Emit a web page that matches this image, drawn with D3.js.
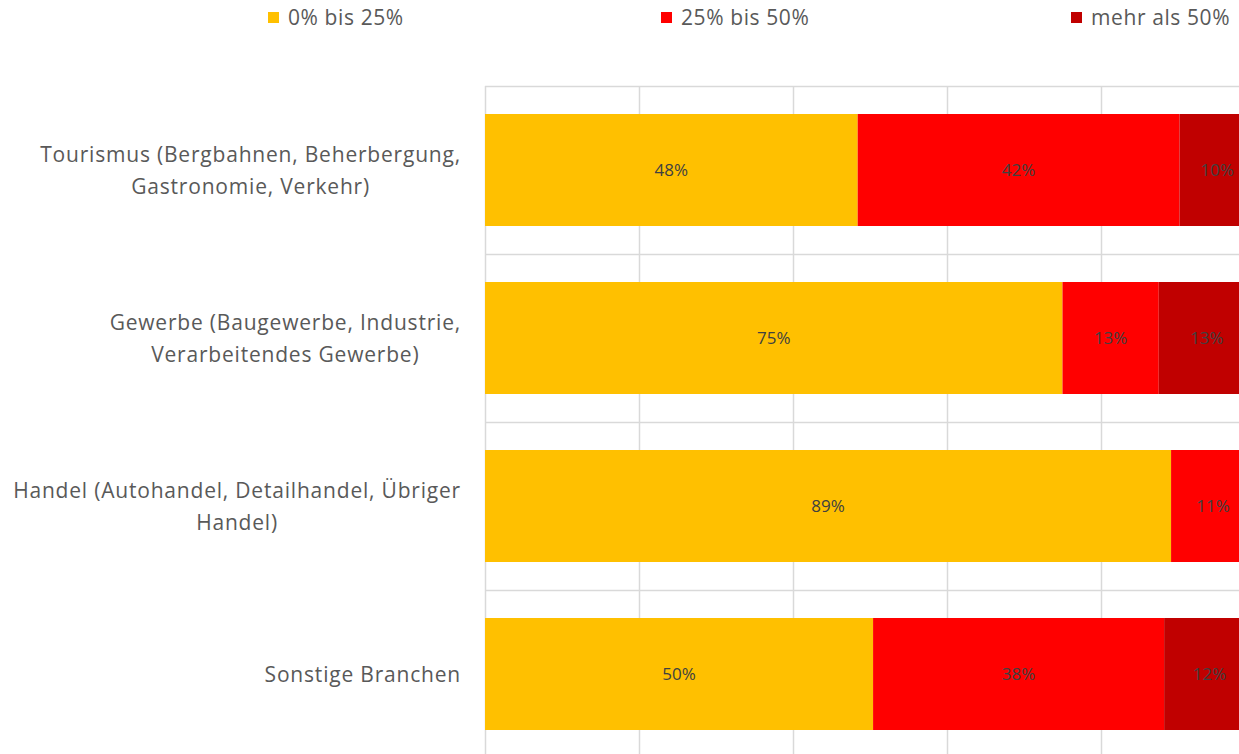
<!DOCTYPE html>
<html>
<head>
<meta charset="utf-8">
<script src="https://cdn.jsdelivr.net/npm/d3@7"></script>
<style>
  body { margin: 0; background: #fff; }
  svg { display: block; font-family: "Open Sans", sans-serif; }
</style>
</head>
<body>
<div class="chart"></div>
<script>
// Data
var categories = [
    ["Tourismus (Bergbahnen, Beherbergung,", "Gastronomie, Verkehr)"],
    ["Gewerbe (Baugewerbe, Industrie,", "Verarbeitendes Gewerbe)"],
    ["Handel (Autohandel, Detailhandel, Übriger", "Handel)"],
    ["Sonstige Branchen"]
];
var seriesNames = ["0% bis 25%", "25% bis 50%", "mehr als 50%"];
var low = [48.4, 75, 89.1, 50.4];
var mid = [41.8, 12.5, 10.9, 37.8];
var high = [9.8, 12.5, 0, 11.8];
var xTicks = [0, 0.2, 0.4, 0.6, 0.8, 1];
var colors = ["#FFC000", "#FF0000", "#C00000"];

var svgWidth = 1239;
var svgHeight = 754;

var svg = d3.select(".chart")
    .append("svg")
    .attr("width", svgWidth)
    .attr("height", svgHeight);

var rows = categories.map(function(c, i) {
    return { key: i, low: low[i] / 100, mid: mid[i] / 100, high: high[i] / 100 };
});

var stacked = d3.stack().keys(["low", "mid", "high"])(rows);

// Scales - plot runs past the right edge of the picture
var xScale = d3.scaleLinear().domain([0, 1]).range([485, 1255]);
var yScale = d3.scaleBand()
    .domain(d3.range(categories.length))
    .range([86, 758])
    .paddingInner(1 / 3)
    .paddingOuter(1 / 6);

var gridColor = "#d9d9d9";

// vertical gridlines
svg.append("g")
    .selectAll("line")
    .data(xTicks)
    .enter()
    .append("line")
    .attr("x1", d => xScale(d) + 0.5)
    .attr("x2", d => xScale(d) + 0.5)
    .attr("y1", 86)
    .attr("y2", 758)
    .attr("stroke", gridColor)
    .attr("stroke-width", 1.5);

// horizontal category boundary lines
var step = yScale.step();
svg.append("g")
    .selectAll("line")
    .data(d3.range(categories.length + 1))
    .enter()
    .append("line")
    .attr("x1", 485)
    .attr("x2", 1255)
    .attr("y1", d => 86 + d * step + 0.5)
    .attr("y2", d => 86 + d * step + 0.5)
    .attr("stroke", gridColor)
    .attr("stroke-width", 1.5);

// bars
var layers = svg.append("g")
    .selectAll("g")
    .data(stacked)
    .enter()
    .append("g")
    .attr("fill", (d, i) => colors[i]);

layers.selectAll("rect")
    .data(d => d)
    .enter()
    .append("rect")
    .attr("x", d => xScale(d[0]))
    .attr("y", (d, i) => yScale(i))
    .attr("width", d => xScale(d[1]) - xScale(d[0]))
    .attr("height", yScale.bandwidth());

// data labels
layers.selectAll("text")
    .data(d => d.filter(function(v) { return v[1] - v[0] > 0; }))
    .enter()
    .append("text")
    .attr("x", d => (xScale(d[0]) + xScale(d[1])) / 2)
    .attr("y", d => yScale(d.data.key) + yScale.bandwidth() / 2)
    .attr("dy", "0.35em")
    .attr("text-anchor", "middle")
    .attr("fill", "#404040")
    .style("font-size", "17px")
    .text(d => Math.round((d[1] - d[0]) * 100) + "%");

// category labels (block right aligned, lines centred inside block)
var labelRight = 461;
var lineHeight = 32;
categories.forEach(function(lines, i) {
    var g = svg.append("g");
    var cy = yScale(i) + yScale.bandwidth() / 2 + 1;
    var texts = lines.map(function(line, j) {
        return g.append("text")
            .attr("y", cy + (j - (lines.length - 1) / 2) * lineHeight)
            .attr("dy", "0.35em")
            .attr("text-anchor", "middle")
            .attr("fill", "#595959")
            .style("font-size", "21px")
            .style("letter-spacing", "0.8px")
            .text(line);
    });
    var maxW = d3.max(texts, t => t.node().getComputedTextLength());
    texts.forEach(t => t.attr("x", labelRight - maxW / 2));
});

// legend
var legendX = [268, 661, 1071];
var legend = svg.append("g")
    .selectAll("g")
    .data(seriesNames)
    .enter()
    .append("g")
    .attr("transform", (d, i) => `translate(${legendX[i]}, 0)`);

legend.append("rect")
    .attr("x", 0)
    .attr("y", 12)
    .attr("width", 11)
    .attr("height", 11)
    .attr("fill", (d, i) => colors[i]);

legend.append("text")
    .attr("x", 20)
    .attr("y", 18)
    .attr("dy", "0.35em")
    .attr("fill", "#595959")
    .style("font-size", "21px")
    .style("letter-spacing", "0.6px")
    .text(d => d);
</script>
</body>
</html>
